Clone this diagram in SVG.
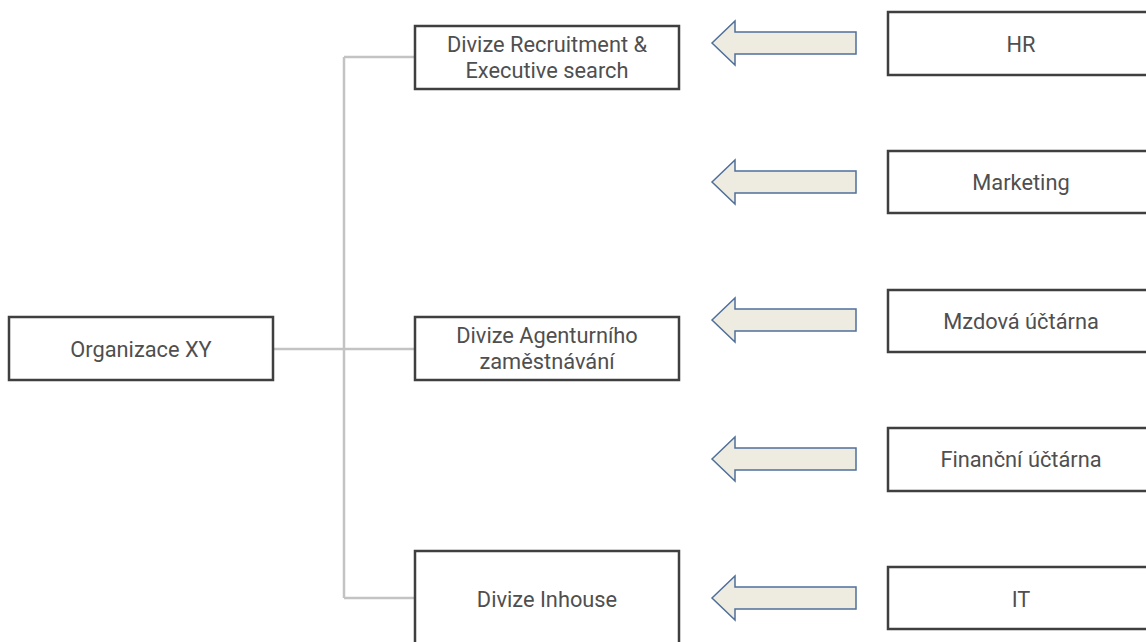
<svg xmlns="http://www.w3.org/2000/svg" width="1146" height="642" viewBox="0 0 1146 642">
<defs>
<style>
.box{fill:#fff;stroke:#3f3f3f;stroke-width:2.5}
.t{font-family:Roboto,"Liberation Sans",sans-serif;font-size:21.8px;fill:#4f4f4f;text-anchor:middle;dominant-baseline:central}
.c{fill:none;stroke:#c3c3c3;stroke-width:2.5}
.arr{fill:#eeece1;stroke:#4f6f9a;stroke-width:1.5}
</style>
<path id="ar" class="arr" d="M0,0 L23,-22 L23,-11 L144,-11 L144,11 L23,11 L23,22 Z"/>
</defs>
<g id="connectors">
<path class="c" d="M273,349 H415 M344,57 V598 M344,57 H415 M344,598 H415"/>
</g>
<g id="org"><rect class="box" x="9" y="317" width="264" height="63"/><text class="t" x="141" y="349">Organizace XY</text></g>
<g id="recruit"><rect class="box" x="415" y="26" width="264" height="63"/><text class="t" x="547" y="44">Divize Recruitment &amp;</text><text class="t" x="547" y="70">Executive search</text></g>
<g id="agent"><rect class="box" x="415" y="317" width="264" height="63"/><text class="t" x="547" y="335">Divize Agenturního</text><text class="t" x="547" y="361">zaměstnávání</text></g>
<g id="inhouse"><rect class="box" x="415" y="551" width="264" height="100"/><text class="t" x="547" y="599">Divize Inhouse</text></g>
<g id="arrows">
<use href="#ar" x="712" y="43"/>
<use href="#ar" x="712" y="182"/>
<use href="#ar" x="712" y="320"/>
<use href="#ar" x="712" y="459"/>
<use href="#ar" x="712" y="598"/>
</g>
<g id="hr"><rect class="box" x="888" y="12" width="270" height="63"/><text class="t" x="1021" y="44">HR</text></g>
<g id="marketing"><rect class="box" x="888" y="151" width="270" height="62"/><text class="t" x="1021" y="182">Marketing</text></g>
<g id="mzdova"><rect class="box" x="888" y="290" width="270" height="62"/><text class="t" x="1021" y="321">Mzdová účtárna</text></g>
<g id="financni"><rect class="box" x="888" y="428" width="270" height="63"/><text class="t" x="1021" y="459">Finanční účtárna</text></g>
<g id="it"><rect class="box" x="888" y="567" width="270" height="62"/><text class="t" x="1021" y="599">IT</text></g>
</svg>
